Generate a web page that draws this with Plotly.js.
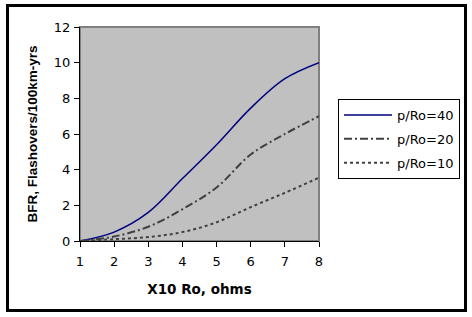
<!DOCTYPE html>
<html>
<head>
<meta charset="utf-8">
<script src="https://cdn.plot.ly/plotly-3.0.1.min.js"></script>
<style>
html,body{margin:0;padding:0;background:#fff;}
#chart{width:472px;height:317px;}
</style>
</head>
<body>
<div id="chart"></div>
<script>
// Data
const xValues = [1, 2, 3, 4, 5, 6, 7, 8];
const seriesNames = ["p/Ro=40", "p/Ro=20", "p/Ro=10"];
const bfr40 = [0, 0.5, 1.6, 3.5, 5.4, 7.45, 9.1, 10.0];
const bfr20 = [0, 0.25, 0.8, 1.78, 3.0, 4.85, 6.0, 7.0];
const bfr10 = [0, 0.1, 0.22, 0.5, 1.05, 1.9, 2.7, 3.55];
const xTitle = "X10 Ro, ohms";
const yTitle = "BFR, Flashovers/100km-yrs";

const traces = [
  {x: xValues, y: bfr40, name: seriesNames[0], mode: "lines", legendgroup: "a",
   line: {color: "#000080", width: 1.5, shape: "spline", smoothing: 1}},
  {x: xValues, y: bfr20, name: seriesNames[1], mode: "lines", legendgroup: "b",
   line: {color: "#404040", width: 2, dash: "8px,3px,2px,3px", shape: "spline", smoothing: 1}},
  {x: xValues, y: bfr10, name: seriesNames[2], mode: "lines", legendgroup: "c",
   line: {color: "#404040", width: 2, dash: "3px,3px", shape: "spline", smoothing: 1}}
];

const L = 80, R = 319, T = 27, B = 241, W = 472, H = 317;
const px = v => (v - L) / (R - L);
const py = v => (B - v) / (B - T);

const layout = {
  width: W, height: H,
  margin: {l: L, r: W - R, t: T, b: H - B, pad: 0},
  paper_bgcolor: "#ffffff",
  plot_bgcolor: "#c0c0c0",
  showlegend: true,
  font: {family: "DejaVu Sans", size: 13, color: "#000"},
  xaxis: {
    range: [1, 8], dtick: 1, tick0: 1, showgrid: false, zeroline: false,
    showline: true, linecolor: "#000", linewidth: 1,
    ticks: "outside", ticklen: 5, tickcolor: "#000", tickwidth: 1,
    ticklabelstandoff: 3,
    tickfont: {family: "DejaVu Sans", size: 13, color: "#000"},
    title: {text: xTitle, font: {family: "DejaVu Sans", size: 13.5, weight: "bold", color: "#000"}, standoff: 16}
  },
  yaxis: {
    range: [0, 12], dtick: 2, tick0: 0, showgrid: false, zeroline: false,
    showline: true, linecolor: "#000", linewidth: 1,
    ticks: "outside", ticklen: 5, tickcolor: "#000", tickwidth: 1,
    ticklabelstandoff: 1,
    tickfont: {family: "DejaVu Sans", size: 13, color: "#000"},
    title: {text: yTitle, font: {family: "Liberation Sans", size: 13.5, weight: "bold", color: "#000"}, standoff: 13}
  },
  legend: {
    x: px(338), y: py(99), xanchor: "left", yanchor: "top",
    bgcolor: "#ffffff", bordercolor: "#000", borderwidth: 1,
    font: {family: "DejaVu Sans", size: 13, color: "#000"},
    tracegroupgap: 4, itemwidth: 48
  },
  shapes: [
    {type: "rect", xref: "paper", yref: "paper", x0: 0, x1: 1, y0: 0, y1: 1,
     line: {color: "#808080", width: 2}, layer: "below"},
    {type: "rect", xref: "paper", yref: "paper",
     x0: px(7.5), x1: px(465.5), y0: py(310.5), y1: py(5.5),
     line: {color: "#000", width: 3}}
  ]
};

Plotly.newPlot("chart", traces, layout, {displayModeBar: false, staticPlot: true});
</script>
</body>
</html>
